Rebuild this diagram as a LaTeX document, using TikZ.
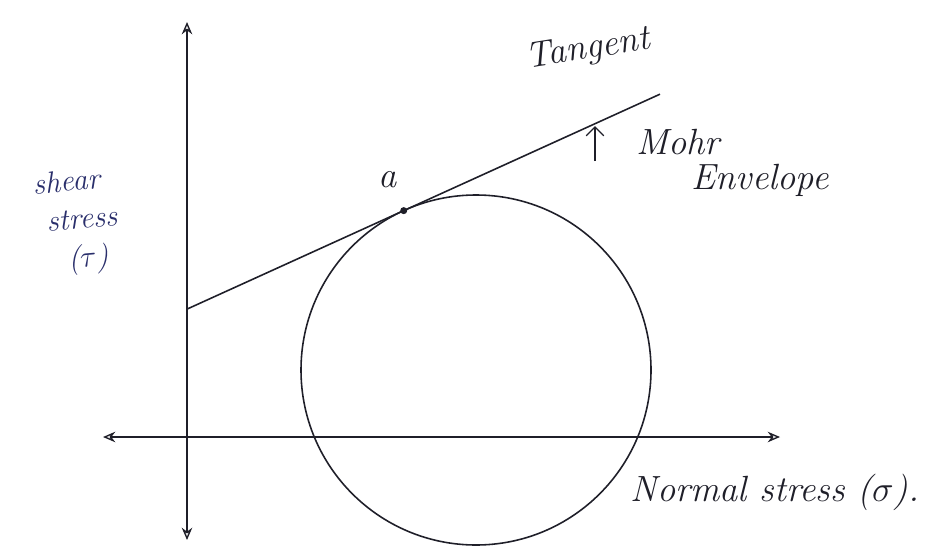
\documentclass[tikz,border=0pt]{standalone}
\usepackage{tikz}
\usetikzlibrary{arrows.meta, calc, positioning}
\definecolor{ink}{rgb}{0.12,0.12,0.16}
\definecolor{blueink}{rgb}{0.16,0.18,0.42}

\begin{document}
\begin{tikzpicture}[%
        axis/.style={{Stealth[length=7pt,width=6pt,open]}-{Stealth[length=7pt,width=6pt,open]}, line width=0.8pt, ink},
        curve/.style={line width=0.9pt, ink},
        hand/.style={font=\huge\itshape, text=ink, inner sep=1pt},
        bluehand/.style={font=\LARGE\itshape, text=blueink, inner sep=1pt, align=center},
        pointer/.style={-{Straight Barb[length=5pt]}, line width=0.7pt, ink}%
    ]
        \useasboundingbox (0,0) rectangle (19,10.96);

        % axes
        \coordinate (bot) at (3.74,0.16);
        \coordinate (top) at (3.74,10.52);
        \coordinate (left) at (2.06,2.22);
        \coordinate (right) at (15.6,2.22);
        \draw[axis] (bot) -- (top);
        \draw[axis] (left) -- (right);

        % Mohr circle and tangent
        \coordinate (ctr) at (9.52,3.56);
        \draw[curve] (ctr) circle (3.5);
        \coordinate (tpt) at ($(ctr)+(114.4:3.5)$);
        \coordinate (tl) at ($(tpt)+(204.44:4.76)$);
        \coordinate (tr) at ($(tpt)+(24.44:5.63)$);
        \draw[curve] (tl) -- (tr);
        \fill[ink] (tpt) circle (2pt);
        \coordinate (mp) at ($(tl)!0.8626!(tr)$);

        \node[hand] (lbla) at (7.76,7.36) {a};
        \node[hand, rotate=9] (tang) at (11.76,9.96) {Tangent};
        \node[hand] (mohr) at (13.56,8.12) {Mohr};
        \node[hand] (env) at (15.2,7.36) {Envelope};
        \draw[pointer] ([yshift=-0.75cm]mp) -- ([yshift=-0.05cm]mp);

        \node[bluehand, rotate=5] (shear) at (1.4,6.5) {shear\\\hspace{0.8em}stress\\\hspace{1em}($\tau$)};

        \node[hand] (normal) at (15.5,1.12) {Normal stress ($\sigma$).};
    \end{tikzpicture}
\end{document}
